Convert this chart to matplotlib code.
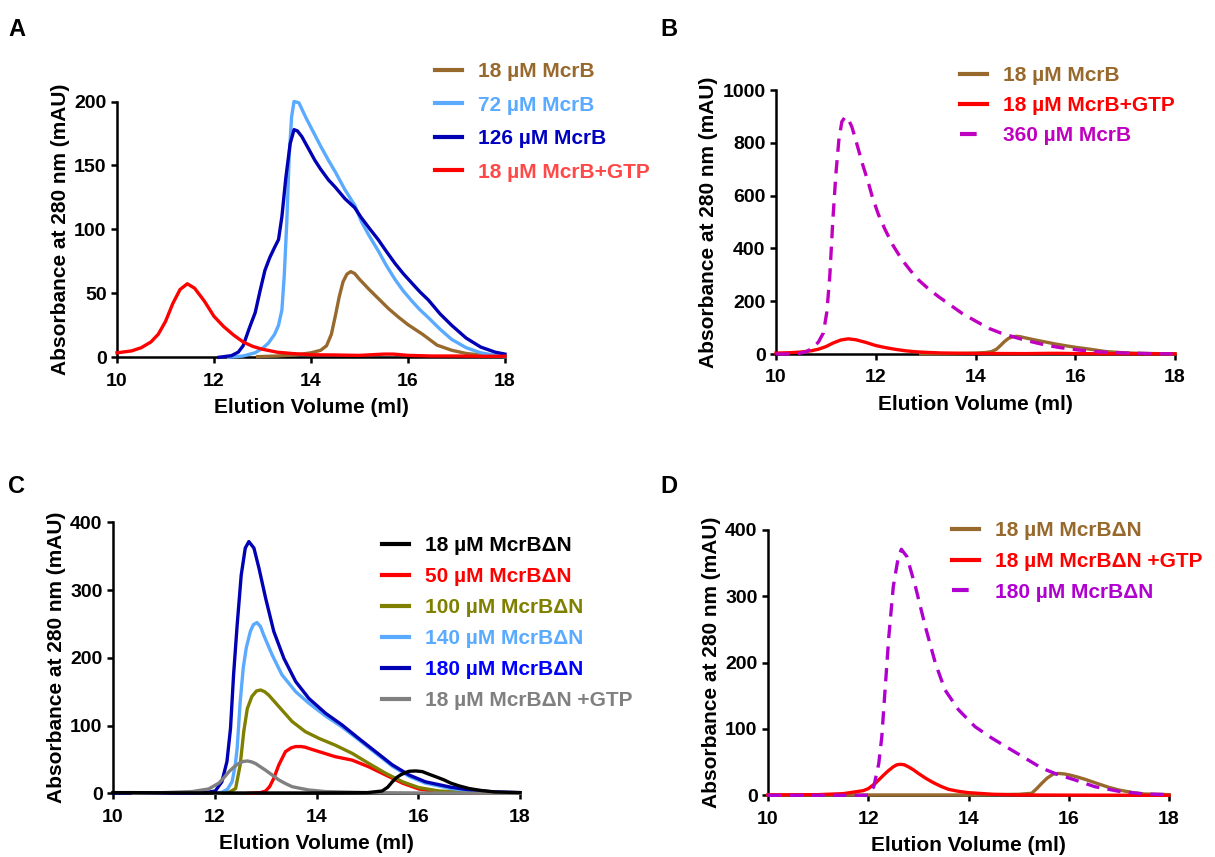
import matplotlib
matplotlib.use('Agg')
import matplotlib.pyplot as plt

plt.rcParams['font.family'] = ['Liberation Sans', 'DejaVu Sans']
plt.rcParams['font.weight'] = 'bold'

W, H = 1215, 857

# colours
BROWN = '#98692d'
LBLUE = '#5aaaff'
DBLUE = '#0000b4'
RED = '#ff0000'
MAGENTA = '#c000c0'
PURPLE = '#b000d0'
OLIVE = '#808000'
GRAY = '#808080'

# ---- panel A / B : McrB ----
mcrb18_x = [12.9, 13.3, 13.7, 14.0, 14.2, 14.32, 14.42, 14.5, 14.58, 14.66, 14.74, 14.82, 14.9, 15.0,
            15.2, 15.4, 15.6, 15.8, 16.0, 16.3, 16.6, 16.9, 17.2, 17.5, 17.8, 18.0]
mcrb18_y = [0.5, 1, 2, 3.5, 5.5, 9, 18, 32, 47, 59, 65, 67, 65.5, 61,
            53, 45.5, 38, 31.5, 25.5, 18, 9.5, 5.5, 3, 1.8, 1, 0.5]

mcrb18_gtp_x = [10.0, 10.3, 10.5, 10.7, 10.85, 11.0, 11.15, 11.3, 11.45, 11.6, 11.8, 12.0, 12.2, 12.4,
                12.6, 12.8, 13.0, 13.3, 13.6, 14.0, 14.5, 15.0, 15.5, 15.7, 16.0, 16.5, 17.0, 17.5, 18.0]
mcrb18_gtp_y = [3.5, 5, 7.5, 12, 18, 28, 42, 53, 57.5, 54, 44, 32, 24, 17.5,
                12, 8.5, 6.3, 4, 3, 2, 1.8, 1.5, 2.5, 2.5, 1.5, 1, 1, 0.8, 0.8]

mcrb72_x = [12.3, 12.6, 12.85, 13.0, 13.12, 13.25, 13.33, 13.4, 13.45, 13.5, 13.55, 13.6, 13.65, 13.75,
            13.9, 14.05, 14.2, 14.36, 14.5, 14.7, 14.9, 15.04, 15.2, 15.39, 15.55, 15.73, 15.9, 16.08,
            16.25, 16.42, 16.66, 16.9, 17.2, 17.5, 17.8, 18.0]
mcrb72_y = [0, 1, 3.6, 7, 11, 18, 25, 37, 65, 105, 157, 188, 200, 199,
            187, 176, 165, 154, 145, 131, 119, 106, 95, 83, 72, 61, 52, 44,
            37, 31, 22, 14, 7.5, 3.5, 1.5, 0.5]

mcrb126_x = [12.1, 12.36, 12.5, 12.6, 12.74, 12.85, 12.95, 13.05, 13.15, 13.25, 13.33, 13.4, 13.48, 13.57,
             13.65, 13.72, 13.81, 13.95, 14.08, 14.2, 14.36, 14.5, 14.7, 14.9, 15.04, 15.2, 15.39, 15.55,
             15.73, 15.9, 16.08, 16.25, 16.42, 16.66, 16.9, 17.2, 17.5, 17.8, 18.0]
mcrb126_y = [0, 1.3, 4, 9, 24, 35, 52, 68, 78, 86, 92, 110, 140, 167,
             178, 177, 172.6, 163, 154, 147, 138.7, 133, 124, 117, 109, 101, 91.8, 83,
             73.5, 65.5, 58, 51, 44.8, 34, 25, 15, 8, 4, 2.5]

mcrb360_x = [10.0, 10.4, 10.6, 10.72, 10.85, 10.95, 11.02, 11.08, 11.14, 11.2, 11.26, 11.32, 11.39, 11.46,
             11.52, 11.6, 11.73, 11.85, 11.93, 12.05, 12.19, 12.35, 12.53, 12.7, 12.86, 13.05, 13.26,
             13.5, 13.73, 14.0, 14.27, 14.5, 14.74, 15.0, 15.4, 15.7, 16.07, 16.5, 17.0, 17.5, 18.0]
mcrb360_y = [0, 0, 8, 21, 45, 80, 160, 300, 508, 680, 810, 880, 899, 885,
             861, 810, 722, 650, 596, 530, 470, 410, 356, 315, 280, 248, 217,
             185, 154, 125, 97, 80, 66, 52, 34, 24, 15, 8, 4, 1.5, 0.5]

# ---- panel C : McrBdN series ----
dn18_x = [10.0, 10.3, 12.0, 14.0, 15.0, 15.29, 15.4, 15.49, 15.57, 15.65, 15.74, 15.82, 15.95, 16.08,
          16.2, 16.34, 16.5, 16.64, 16.8, 17.0, 17.25, 17.5, 18.0]
dn18_y = [1, 1, 0.5, 0.5, 1, 3.4, 9, 17, 23, 27, 30.5, 32.5, 33, 32,
          28.5, 24.6, 20, 15, 11, 7, 4, 2, 1]

dn50_x = [12.67, 12.9, 13.0, 13.08, 13.16, 13.26, 13.39, 13.5, 13.59, 13.7, 13.78, 13.9, 14.05, 14.37,
          14.7, 15.03, 15.36, 15.69, 16.01, 16.34, 17.0, 18.0]
dn50_y = [0, 1, 3.4, 10, 22, 42, 61.5, 67, 69, 69, 68, 65, 61.5, 54,
          49, 39, 27, 15, 6.4, 2.5, 0.5, 0]

dn100_x = [12.0, 12.28, 12.41, 12.5, 12.57, 12.64, 12.73, 12.82, 12.9, 12.98, 13.06, 13.26, 13.52, 13.78,
           14.05, 14.37, 14.7, 15.03, 15.36, 15.69, 16.01, 16.41, 17.0, 18.0]
dn100_y = [0, 1.5, 7, 42, 91, 125, 143, 151, 152.5, 150, 145, 128, 106, 91,
           81, 71, 59, 44, 29.5, 17, 8.4, 3.4, 1, 0]

dn140_x = [12.0, 12.14, 12.25, 12.34, 12.4, 12.44, 12.5, 12.56, 12.62, 12.7, 12.76, 12.83, 12.9, 12.96,
           13.05, 13.13, 13.32, 13.59, 13.85, 14.18, 14.5, 14.83, 15.16, 15.49, 15.82, 16.14, 16.64,
           17.0, 17.5, 18.0]
dn140_y = [0, 1.5, 6, 17, 40, 66, 135, 185, 215, 239, 249, 252, 246, 234,
           218, 204, 175, 150, 133, 114, 98, 79, 59.5, 40, 25, 15, 7,
           4, 1.5, 0.5]

dn180_x = [10.0, 11.5, 11.82, 12.01, 12.14, 12.24, 12.31, 12.37, 12.44, 12.52, 12.6, 12.67, 12.77, 12.87,
           13.0, 13.16, 13.36, 13.59, 13.85, 14.18, 14.5, 14.83, 15.16, 15.49, 15.82, 16.14, 16.64,
           17.0, 17.5, 18.0]
dn180_y = [0.5, 0.5, 1, 3.4, 17, 47, 96, 175, 248, 322, 362, 371.5, 362, 332,
           288, 239, 199, 165, 140, 118, 101, 81, 61.5, 42, 27, 17, 9,
           5, 2, 1]

dn18_gtp_x = [10.4, 11.0, 11.55, 11.88, 12.08, 12.18, 12.28, 12.38, 12.47, 12.56, 12.64, 12.72, 12.8,
              12.9, 13.0, 13.13, 13.26, 13.4, 13.52, 13.7, 13.85, 14.18, 15.0, 16.0, 17.0, 18.0]
dn18_gtp_y = [0, 1, 2.5, 6.4, 15, 23, 32, 39, 44, 47, 47.7, 46.5, 44,
              39, 34, 27, 19.7, 14, 9.8, 7, 4.9, 2.5, 1, 0.5, 0.2, 0]

# ---- panel D ----
d_dn18_x = [10.0, 13.0, 14.0, 15.0, 15.26, 15.36, 15.46, 15.57, 15.69, 15.8, 15.93, 16.05, 16.2, 16.35,
            16.56, 16.8, 17.0, 17.25, 17.5, 18.0]
d_dn18_y = [0.5, 0.5, 0.5, 1.5, 3, 10, 18, 26, 32, 33, 32, 30, 27, 23.5,
            18, 12, 8, 4.5, 2, 1]

d_dn18_gtp_x = [10.0, 11.0, 11.5, 11.9, 12.0, 12.14, 12.3, 12.4, 12.5, 12.57, 12.64, 12.72, 12.8, 12.9,
                13.0, 13.15, 13.3, 13.45, 13.6, 13.8, 14.0, 14.5, 15.0, 16.0, 18.0]
d_dn18_gtp_y = [0.5, 1, 2.5, 7, 10, 18, 30, 37, 43, 46, 46.7, 46, 43, 38.5,
                33, 25.5, 19, 13.5, 9, 6, 4, 1.5, 0.5, 0.3, 0]

d_dn180_x = [10.0, 12.0, 12.11, 12.21, 12.27, 12.34, 12.41, 12.5, 12.59, 12.66, 12.77, 12.94, 13.14,
             13.34, 13.53, 13.8, 14.13, 14.47, 14.8, 15.13, 15.46, 15.79, 16.13, 16.52, 17.0, 17.5, 18.0]
d_dn180_y = [0, 0, 13, 48, 88, 164, 239, 315, 355, 371, 360, 315, 254,
             199, 159, 129, 103.5, 86, 71, 56, 41, 31, 23, 13, 6, 2, 1]

xticks = [10, 12, 14, 16, 18]

LW = 2.4
DASH = (0, (4, 2.5))

fig = plt.figure(figsize=(W / 100, H / 100), dpi=100)


def make_axes(left, top, right, bottom, ymax, ystep):
    # positions in pixels of the original figure
    ax = fig.add_axes([left / W, 1 - bottom / H, (right - left) / W, (bottom - top) / H])
    ax.set_xlim(10, 18)
    ax.set_ylim(0, ymax)
    ax.set_xticks(xticks)
    ax.set_yticks(list(range(0, ymax + 1, ystep)))
    for s in ['top', 'right']:
        ax.spines[s].set_visible(False)
    for s in ['left', 'bottom']:
        ax.spines[s].set_linewidth(1.8)
    ax.tick_params(direction='out', length=4.5, width=1.8, labelsize=14)
    ax.tick_params(axis='x', pad=6.5)
    ax.tick_params(axis='y', pad=3)
    for lab in ax.get_xticklabels() + ax.get_yticklabels():
        lab.set_fontweight('bold')
    ax.set_xlabel('Elution Volume (ml)', fontsize=15, fontweight='bold', labelpad=6)
    ax.set_ylabel('Absorbance at 280 nm (mAU)', fontsize=15, fontweight='bold', labelpad=3)
    return ax


def curve(ax, x, y, color, label, ls='-'):
    line, = ax.plot(x, y, color=color, lw=LW, ls=ls, label=label, zorder=3, clip_on=False,
                    solid_joinstyle='round')
    return line


def legend(ax, handles, text_colors, x_px, y_px, spacing):
    leg = ax.legend(handles=handles, loc='upper left', bbox_to_anchor=(x_px / W, 1 - y_px / H),
                    bbox_transform=fig.transFigure, frameon=False,
                    prop={'weight': 'bold', 'size': 15}, handlelength=1.3, handletextpad=0.75,
                    labelspacing=spacing, borderpad=0, borderaxespad=0)
    for t, c in zip(leg.get_texts(), text_colors):
        t.set_color(c)
    for h in leg.legend_handles:
        h.set_linewidth(3)
    return leg


# A
axA = make_axes(117, 101.5, 505, 357.3, 200, 50)
hA = [curve(axA, mcrb18_x, mcrb18_y, BROWN, '18 µM McrB'),
      curve(axA, mcrb72_x, mcrb72_y, LBLUE, '72 µM McrB'),
      curve(axA, mcrb126_x, mcrb126_y, DBLUE, '126 µM McrB'),
      curve(axA, mcrb18_gtp_x, mcrb18_gtp_y, RED, '18 µM McrB+GTP')]
legend(axA, hA, [BROWN, LBLUE, '#0000c0', '#ff4848'], 435, 62, 0.7)

# B
axB = make_axes(776, 90, 1175, 354, 1000, 200)
hB = [curve(axB, mcrb18_x, mcrb18_y, BROWN, '18 µM McrB'),
      curve(axB, mcrb18_gtp_x, mcrb18_gtp_y, RED, '18 µM McrB+GTP'),
      curve(axB, mcrb360_x, mcrb360_y, MAGENTA, '360 µM McrB', ls=DASH)]
legend(axB, hB, [BROWN, RED, MAGENTA], 960, 66, 0.53)

# C
axC = make_axes(113, 522.3, 520, 793.3, 400, 100)
hC = [curve(axC, dn18_x, dn18_y, 'black', '18 µM McrBΔN'),
      curve(axC, dn50_x, dn50_y, RED, '50 µM McrBΔN'),
      curve(axC, dn100_x, dn100_y, OLIVE, '100 µM McrBΔN'),
      curve(axC, dn140_x, dn140_y, LBLUE, '140 µM McrBΔN'),
      curve(axC, dn180_x, dn180_y, DBLUE, '180 µM McrBΔN'),
      curve(axC, dn18_gtp_x, dn18_gtp_y, GRAY, '18 µM McrBΔN +GTP')]
# draw order: gray and black on top
hC[5].set_zorder(3.5)
hC[0].set_zorder(3.6)
legend(axC, hC, ['black', RED, OLIVE, LBLUE, '#0000ff', GRAY], 382, 536, 0.58)

# D
axD = make_axes(768, 530, 1169, 795.3, 400, 100)
hD = [curve(axD, d_dn18_x, d_dn18_y, BROWN, '18 µM McrBΔN'),
      curve(axD, d_dn18_gtp_x, d_dn18_gtp_y, RED, '18 µM McrBΔN +GTP'),
      curve(axD, d_dn180_x, d_dn180_y, PURPLE, '180 µM McrBΔN', ls=DASH)]
legend(axD, hD, [BROWN, RED, PURPLE], 952, 521, 0.57)

for letter, x, y in [('A', 8, 30), ('B', 660, 30), ('C', 8, 487), ('D', 660, 487)]:
    fig.text(x / W, 1 - y / H, letter, fontsize=17, fontweight='bold', va='center', ha='left')

fig.savefig('out.png', dpi=100)
